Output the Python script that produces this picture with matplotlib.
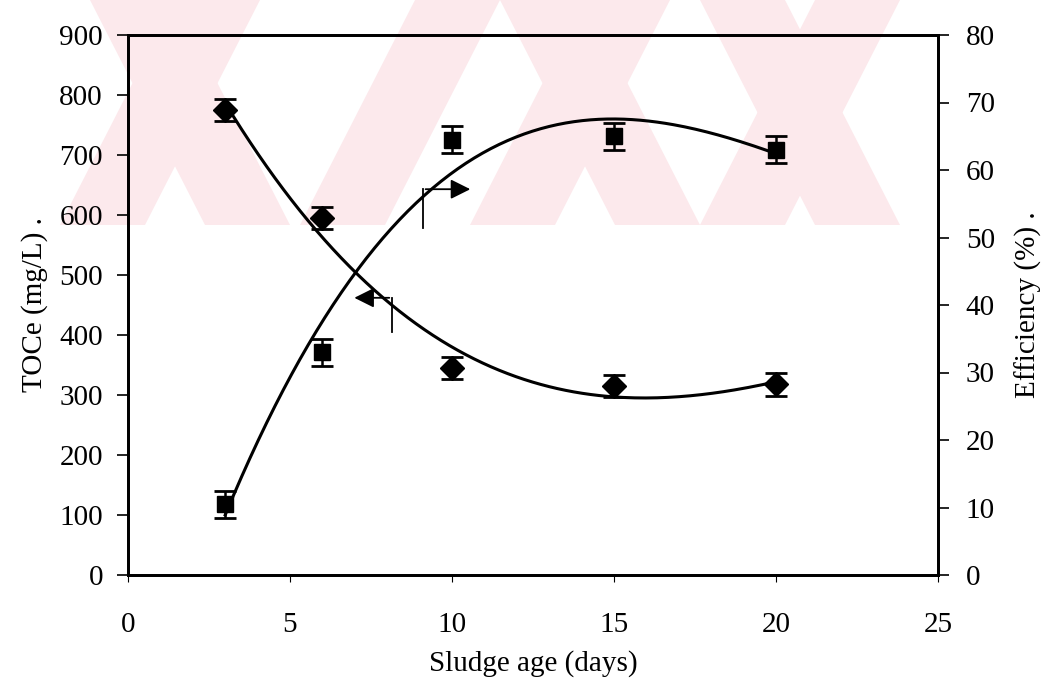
import numpy as np
import matplotlib
matplotlib.use("Agg")
import matplotlib.pyplot as plt
from matplotlib.patches import Polygon

# data
sludge_age = [3, 6, 10, 15, 20]
toce = [775, 595, 345, 315, 318]          # mg/L, left axis (diamonds)
toce_err = [19, 19, 19, 19, 19]
efficiency = [10.5, 33, 64.5, 65, 63]     # %, right axis (squares)
eff_err = [2, 2, 2, 2, 2]

plt.rcParams['font.family'] = ['Liberation Serif', 'DejaVu Serif']

fig = plt.figure(figsize=(10.49, 6.87), dpi=100)

# pale watermark stripes across the top of the page (pixel coords, y down)
pink = '#fce9ec'
def band(pts):
    fig.add_artist(Polygon([(x, 687 - y) for x, y in pts], closed=True,
                           facecolor=pink, edgecolor='none', transform=None, zorder=0))
for x0 in [60, 300, 470, 700]:
    band([(x0, 225), (x0 + 85, 225), (x0 + 85 + 115, 0), (x0 + 115, 0)])
for x0 in [90, 500, 700]:
    band([(x0, 0), (x0 + 85, 0), (x0 + 85 + 115, 225), (x0 + 115, 225)])

ax = fig.add_axes([128 / 1049, 112 / 687, 810 / 1049, 540 / 687])
ax.patch.set_alpha(0)
ax2 = ax.twinx()

# polynomial trend lines through the measured points
xs = np.linspace(3, 20, 200)
c1 = np.polyfit(sludge_age, toce, 3)
c2 = np.polyfit(sludge_age, efficiency, 3)
ax.plot(xs, np.polyval(c1, xs), color='black', lw=2.2)
ax2.plot(xs, np.polyval(c2, xs), color='black', lw=2.2)

ax.errorbar(sludge_age, toce, yerr=toce_err, fmt='D', color='black', ms=12,
            capsize=8, capthick=2, elinewidth=1.8)
ax2.errorbar(sludge_age, efficiency, yerr=eff_err, fmt='s', color='black', ms=12,
             capsize=8, capthick=2, elinewidth=1.8)

# L-shaped pointers to the axes
ax.plot([8.15, 8.15], [405, 462], color='black', lw=1.3)
ax.annotate('', xy=(6.9, 462), xytext=(8.15, 462),
            arrowprops=dict(arrowstyle='-|>', mutation_scale=30, lw=1.3, color='black'))
ax.plot([9.1, 9.1], [578, 643], color='black', lw=1.3)
ax.annotate('', xy=(10.65, 643), xytext=(9.1, 643),
            arrowprops=dict(arrowstyle='-|>', mutation_scale=30, lw=1.3, color='black'))

ax.set_xlim(0, 25)
ax.set_ylim(0, 900)
ax2.set_ylim(0, 80)
ax.set_xticks([0, 5, 10, 15, 20, 25])
ax.set_yticks(range(0, 901, 100))
ax2.set_yticks(range(0, 81, 10))

for a in (ax, ax2):
    for s in a.spines.values():
        s.set_linewidth(2)
ax.tick_params(axis='y', direction='out', length=8, width=1.2, labelsize=21, pad=10)
ax2.tick_params(axis='y', direction='out', length=8, width=1.2, labelsize=21, pad=12)
ax.tick_params(axis='x', direction='out', length=5, width=0.8, labelsize=21, pad=22)

ax.set_xlabel('Sludge age (days)', fontsize=21, labelpad=8)
ax.set_ylabel('TOCe (mg/L) .', fontsize=21, labelpad=8)
ax2.set_ylabel('Efficiency (%) .', fontsize=21, labelpad=14)

fig.savefig('out.png', dpi=100)
